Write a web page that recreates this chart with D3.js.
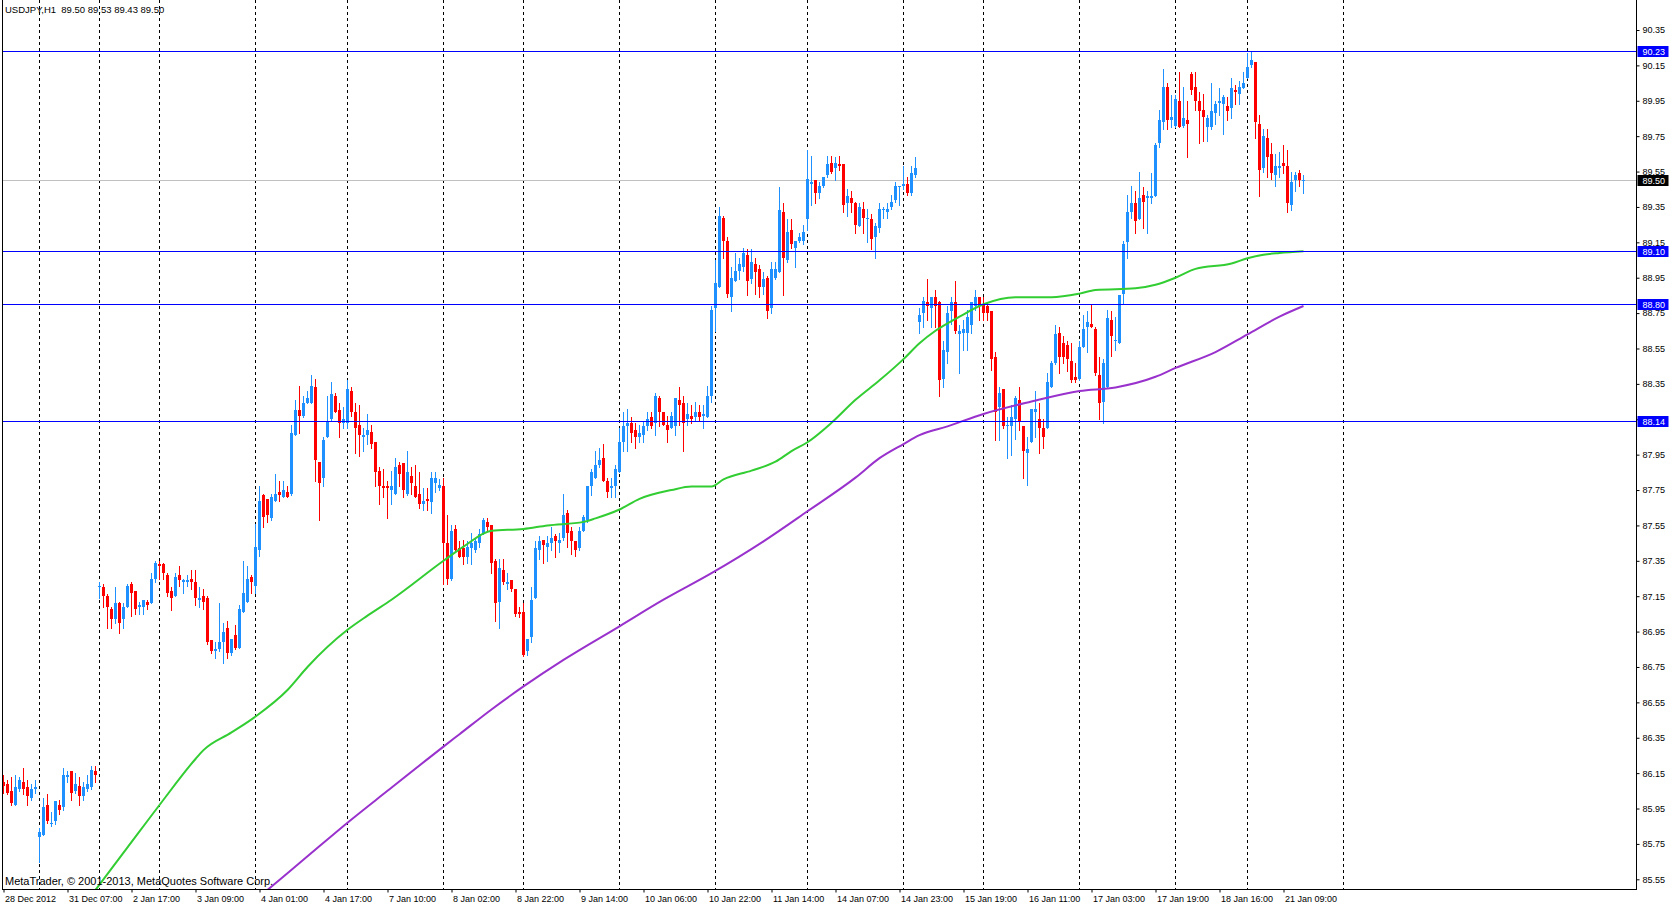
<!DOCTYPE html>
<html>
<head>
<meta charset="utf-8">
<script src="https://cdn.jsdelivr.net/npm/d3@7"></script>
<style>
body { margin: 0; background: #fff; }
svg text { font-family: "Liberation Sans", Arial, sans-serif; }
</style>
</head>
<body>
<script>
// USDJPY H1, one value per hourly bar (bar 0 = 28 Dec 15:00)
var open = [
  86.10,86.09,86.05,85.97,86.06,86.10,86.07,86.01,86.06,85.79,
  85.80,85.97,85.86,85.88,85.97,85.96,86.13,86.16,86.05,86.08,
  86.02,86.06,86.07,86.16,87.20,87.20,87.15,87.08,87.02,87.11,
  87.02,87.09,87.22,87.18,87.09,87.09,87.12,87.11,87.25,87.33,
  87.33,87.27,87.18,87.15,87.27,87.23,87.23,87.25,87.23,87.13,
  87.15,87.14,86.90,86.84,86.85,86.89,86.97,86.83,86.93,86.86,
  87.06,87.12,87.26,87.21,87.41,87.72,87.70,87.59,87.69,87.74,
  87.71,87.74,87.73,88.06,88.20,88.17,88.24,88.24,88.33,87.91,
  87.82,88.05,88.15,88.28,88.20,88.13,88.13,88.31,88.19,88.12,
  88.05,88.06,88.08,88.02,87.86,87.77,87.77,87.75,87.73,87.89,
  87.90,87.73,87.83,87.77,87.73,87.67,87.70,87.68,87.79,87.76,
  87.77,87.45,87.25,87.53,87.42,87.42,87.37,87.42,87.41,87.45,
  87.50,87.57,87.55,87.35,87.12,87.30,87.22,87.24,87.19,87.06,
  87.06,86.84,86.92,87.14,87.41,87.47,87.43,87.45,87.49,87.45,
  87.48,87.62,87.52,87.46,87.42,87.52,87.58,87.77,87.82,87.89,
  87.93,87.80,87.76,87.77,87.85,88.02,88.11,88.13,88.09,88.05,
  88.06,88.11,88.16,88.13,88.27,88.19,88.12,88.10,88.11,88.26,
  88.24,88.15,88.17,88.16,88.19,88.17,88.16,88.28,88.78,88.90,
  89.29,89.16,88.84,88.93,88.99,89.01,89.08,88.94,89.03,89.00,
  88.90,88.95,88.78,88.95,88.98,89.32,89.05,89.22,89.12,89.16,
  89.16,89.28,89.48,89.50,89.43,89.47,89.53,89.60,89.57,89.59,
  89.59,89.37,89.40,89.37,89.24,89.34,89.28,89.28,89.18,89.23,
  89.33,89.32,89.35,89.39,89.46,89.47,89.48,89.43,89.53,88.70,
  88.75,88.81,88.78,88.84,88.81,88.38,88.53,88.76,88.81,88.63,
  88.64,88.64,88.68,88.79,88.84,88.80,88.79,88.76,88.50,88.22,
  88.32,88.11,88.11,88.15,88.26,88.11,87.96,88.02,88.19,88.15,
  88.10,88.10,88.33,88.47,88.64,88.58,88.57,88.48,88.39,88.38,
  88.56,88.67,88.69,88.66,88.40,88.25,88.33,88.71,88.59,88.58,
  88.86,89.15,89.32,89.37,89.28,89.42,89.40,89.40,89.41,89.71,
  89.83,90.03,89.84,89.81,89.95,89.81,89.84,90.10,90.03,89.95,
  89.90,89.80,89.80,89.88,89.94,89.93,89.92,89.91,90.01,89.99,
  90.02,90.08,90.15,90.17,89.82,89.57,89.74,89.65,89.53,89.57,
  89.60,89.58,89.36,89.50,89.54,89.50
];
var high = [
  86.14,86.11,86.13,86.14,86.13,86.18,86.11,86.09,86.11,85.84,
  86.01,86.03,85.93,85.99,86.00,86.18,86.16,86.16,86.15,86.13,
  86.10,86.14,86.19,86.19,87.23,87.22,87.16,87.09,87.20,87.12,
  87.11,87.22,87.23,87.18,87.12,87.13,87.13,87.28,87.35,87.35,
  87.34,87.28,87.20,87.28,87.32,87.25,87.27,87.30,87.30,87.20,
  87.19,87.15,86.90,86.89,87.11,87.00,87.01,86.91,86.99,87.10,
  87.35,87.32,87.27,87.56,87.77,87.73,87.70,87.73,87.84,87.80,
  87.80,87.77,88.12,88.26,88.34,88.28,88.31,88.40,88.38,87.91,
  88.05,88.28,88.36,88.30,88.24,88.22,88.37,88.33,88.24,88.23,
  88.10,88.18,88.12,88.02,87.88,87.87,87.80,87.86,87.93,87.91,
  87.90,87.97,87.88,87.89,87.85,87.76,87.76,87.85,87.85,87.81,
  87.82,87.61,87.55,87.55,87.46,87.47,87.46,87.51,87.48,87.53,
  87.59,87.59,87.55,87.36,87.36,87.36,87.28,87.24,87.19,87.09,
  87.11,86.91,87.20,87.46,87.49,87.47,87.49,87.54,87.50,87.51,
  87.73,87.64,87.54,87.46,87.54,87.61,87.77,87.87,87.97,87.99,
  88.01,87.82,87.82,87.89,88.10,88.19,88.21,88.16,88.13,88.12,
  88.14,88.19,88.19,88.30,88.28,88.19,88.17,88.19,88.27,88.33,
  88.28,88.24,88.23,88.25,88.23,88.23,88.34,88.79,89.05,89.35,
  89.30,89.18,89.01,89.09,89.06,89.12,89.11,89.11,89.06,89.02,
  88.98,88.96,89.04,89.04,89.46,89.37,89.28,89.28,89.16,89.20,
  89.25,89.67,89.64,89.50,89.49,89.52,89.64,89.64,89.63,89.64,
  89.59,89.45,89.44,89.38,89.37,89.38,89.34,89.31,89.26,89.37,
  89.35,89.37,89.42,89.49,89.47,89.58,89.52,89.58,89.63,88.78,
  88.84,88.94,88.84,88.88,88.82,88.59,88.79,88.84,88.93,88.68,
  88.71,88.77,88.81,88.88,88.84,88.84,88.81,88.76,88.53,88.33,
  88.32,88.16,88.23,88.28,88.33,88.11,88.05,88.21,88.31,88.24,
  88.15,88.41,88.48,88.68,88.67,88.62,88.59,88.58,88.47,88.59,
  88.74,88.76,88.80,88.67,88.50,88.49,88.77,88.76,88.73,88.85,
  89.16,89.42,89.47,89.44,89.55,89.46,89.44,89.54,89.71,89.90,
  90.13,90.05,89.98,89.98,90.11,90.03,89.95,90.11,90.11,90.00,
  89.99,89.87,90.05,89.95,90.02,89.98,89.97,90.08,90.04,90.06,
  90.11,90.22,90.23,90.17,89.87,89.79,89.79,89.71,89.65,89.66,
  89.70,89.67,89.55,89.55,89.56,89.53
];
var low = [
  86.04,86.03,85.97,85.97,86.05,86.03,85.97,86.00,86.04,85.65,
  85.80,85.87,85.85,85.86,85.92,85.94,86.10,86.00,86.04,85.97,
  86.00,86.05,86.06,86.10,87.14,87.09,86.97,86.97,87.00,86.94,
  86.97,87.09,87.04,87.05,87.05,87.05,87.08,87.11,87.23,87.25,
  87.25,87.15,87.07,87.15,87.21,87.17,87.21,87.19,87.10,87.09,
  87.08,86.88,86.83,86.80,86.84,86.77,86.80,86.82,86.85,86.86,
  87.06,87.12,87.17,87.17,87.38,87.54,87.57,87.58,87.69,87.69,
  87.71,87.71,87.72,88.06,88.07,88.16,88.24,88.24,87.80,87.58,
  87.77,88.05,88.14,88.19,88.05,88.10,88.10,88.17,87.96,87.94,
  87.97,88.01,87.99,87.77,87.67,87.71,87.59,87.67,87.73,87.77,
  87.71,87.72,87.73,87.71,87.65,87.64,87.64,87.62,87.74,87.75,
  87.22,87.22,87.24,87.40,87.37,87.33,87.34,87.33,87.40,87.43,
  87.50,87.52,87.28,87.01,86.97,87.22,87.19,87.18,87.04,87.03,
  86.81,86.82,86.89,87.14,87.36,87.34,87.35,87.41,87.37,87.40,
  87.47,87.43,87.39,87.38,87.41,87.52,87.57,87.72,87.82,87.88,
  87.80,87.71,87.71,87.71,87.85,87.97,87.97,88.02,87.99,88.02,
  88.02,88.09,88.10,88.06,88.11,88.12,88.02,88.10,88.06,88.12,
  87.97,88.12,88.13,88.14,88.14,88.10,88.16,88.25,88.65,88.90,
  89.06,88.84,88.76,88.93,88.94,88.99,88.85,88.92,88.86,88.84,
  88.86,88.72,88.75,88.94,88.98,88.85,89.04,89.12,89.01,89.15,
  89.14,89.22,89.36,89.37,89.40,89.46,89.52,89.54,89.50,89.56,
  89.32,89.30,89.32,89.20,89.24,89.20,89.15,89.11,89.06,89.21,
  89.29,89.29,89.34,89.38,89.36,89.45,89.42,89.42,89.52,88.64,
  88.67,88.71,88.67,88.67,88.28,88.33,88.47,88.69,88.64,88.41,
  88.54,88.54,88.64,88.77,88.71,88.71,88.71,88.43,88.03,88.03,
  88.10,87.93,87.95,88.04,88.09,87.82,87.78,88.02,88.05,87.96,
  87.99,88.10,88.33,88.46,88.41,88.47,88.42,88.36,88.36,88.37,
  88.56,88.53,88.67,88.40,88.15,88.13,88.33,88.51,88.54,88.58,
  88.80,89.06,89.29,89.20,89.28,89.23,89.20,89.37,89.41,89.69,
  89.79,89.79,89.80,89.80,89.80,89.80,89.63,89.99,89.90,89.71,
  89.72,89.72,89.79,89.82,89.87,89.76,89.84,89.85,89.93,89.93,
  90.02,90.08,90.14,89.74,89.41,89.55,89.52,89.51,89.47,89.52,
  89.54,89.32,89.33,89.44,89.47,89.43
];
var close = [
  86.08,86.04,85.98,86.07,86.11,86.06,86.02,86.06,86.07,85.82,
  85.96,85.88,85.87,85.99,85.94,86.14,86.14,86.04,86.09,86.02,
  86.07,86.09,86.17,86.14,87.21,87.15,87.09,87.02,87.11,87.00,
  87.09,87.21,87.17,87.08,87.10,87.13,87.10,87.25,87.34,87.32,
  87.28,87.17,87.14,87.26,87.24,87.24,87.24,87.23,87.14,87.14,
  87.12,86.89,86.84,86.85,86.89,86.95,86.83,86.91,86.86,87.08,
  87.17,87.25,87.23,87.43,87.69,87.60,87.61,87.71,87.73,87.72,
  87.75,87.71,88.07,88.20,88.17,88.24,88.27,88.34,87.92,87.79,
  88.03,88.14,88.29,88.19,88.13,88.15,88.32,88.19,88.10,88.06,
  88.06,88.09,88.01,87.85,87.77,87.76,87.76,87.77,87.88,87.84,
  87.75,87.85,87.79,87.71,87.67,87.69,87.69,87.82,87.82,87.78,
  87.45,87.25,87.52,87.41,87.37,87.37,87.43,87.45,87.46,87.50,
  87.58,87.54,87.34,87.11,87.31,87.23,87.23,87.19,87.05,87.05,
  86.82,86.91,87.13,87.42,87.46,87.44,87.45,87.48,87.46,87.47,
  87.61,87.51,87.46,87.41,87.52,87.60,87.77,87.85,87.89,87.92,
  87.80,87.74,87.77,87.87,88.02,88.11,88.13,88.07,88.05,88.07,
  88.11,88.15,88.11,88.28,88.19,88.12,88.09,88.17,88.27,88.23,
  88.13,88.18,88.15,88.19,88.16,88.18,88.28,88.77,88.92,89.30,
  89.16,88.86,88.95,88.99,89.03,89.09,88.93,89.04,88.98,88.90,
  88.94,88.76,89.00,89.00,89.33,89.06,89.21,89.14,89.16,89.18,
  89.21,89.51,89.49,89.43,89.47,89.52,89.59,89.55,89.60,89.58,
  89.36,89.41,89.37,89.25,89.35,89.29,89.29,89.17,89.24,89.34,
  89.34,89.34,89.38,89.47,89.47,89.48,89.43,89.54,89.57,88.74,
  88.82,88.79,88.84,88.79,88.37,88.54,88.75,88.81,88.65,88.65,
  88.66,88.73,88.81,88.84,88.79,88.75,88.75,88.49,88.19,88.30,
  88.11,88.12,88.16,88.27,88.14,87.97,87.98,88.21,88.21,88.10,
  88.05,88.36,88.47,88.63,88.50,88.50,88.49,88.37,88.37,88.56,
  88.66,88.70,88.67,88.41,88.24,88.47,88.72,88.62,88.60,88.85,
  89.14,89.32,89.37,89.27,89.40,89.38,89.41,89.41,89.70,89.84,
  90.03,89.84,89.86,89.96,89.80,89.85,89.82,90.01,89.95,89.89,
  89.86,89.85,89.89,89.93,89.95,89.97,89.89,90.02,90.00,90.03,
  90.05,90.14,90.18,89.83,89.56,89.75,89.63,89.54,89.58,89.58,
  89.58,89.37,89.49,89.53,89.50,89.50
];

// moving averages at a few bars
var maFastBars   = [23,31,39,48,50,57,63,71,76,86,91,97,110,115,122,130,136,145,148,154,159,167,172,177,180,187,193,197,201,207,213,219,225,229,233,239,245,253,262,269,273,283,288,293,298,307,311,315,319,325];
var maFastValues = [85.49,85.73,85.97,86.23,86.28,86.38,86.47,86.62,86.75,86.96,87.04,87.13,87.35,87.43,87.52,87.53,87.55,87.57,87.59,87.64,87.70,87.75,87.77,87.77,87.81,87.86,87.91,87.97,88.02,88.13,88.26,88.37,88.49,88.58,88.65,88.73,88.80,88.84,88.84,88.86,88.88,88.89,88.91,88.95,89.00,89.03,89.06,89.08,89.09,89.10];
var maSlowBars   = [66,76,86,96,110,114,122,130,140,154,165,177,190,201,213,219,225,229,236,245,257,269,278,288,293,303,311,319,325];
var maSlowValues = [85.49,85.68,85.87,86.05,86.30,86.37,86.51,86.64,86.79,86.98,87.13,87.28,87.46,87.63,87.82,87.93,88.01,88.06,88.11,88.18,88.25,88.31,88.33,88.39,88.44,88.53,88.63,88.73,88.79];

var symbol = "USDJPY,H1";
var levels = [90.23, 89.10, 88.80, 88.14];
var bid = 89.50;
var priceTicks = [90.35,90.15,89.95,89.75,89.55,89.35,89.15,88.95,88.75,88.55,88.35,88.15,87.95,87.75,87.55,87.35,87.15,86.95,86.75,86.55,86.35,86.15,85.95,85.75,85.55];
var timeLabels = ["28 Dec 2012","31 Dec 07:00","2 Jan 17:00","3 Jan 09:00","4 Jan 01:00","4 Jan 17:00","7 Jan 10:00","8 Jan 02:00","8 Jan 22:00","9 Jan 14:00","10 Jan 06:00","10 Jan 22:00","11 Jan 14:00","14 Jan 07:00","14 Jan 23:00","15 Jan 19:00","16 Jan 11:00","17 Jan 03:00","17 Jan 19:00","18 Jan 16:00","21 Jan 09:00"];
var timeLabelBars = [0,16,32,48,64,80,96,112,128,144,160,176,192,208,224,240,256,272,288,304,320];
var daySeparators = [9,24,39,63,86,110,130,154,178,201,225,245,269,293,311,335];

var w = 1674, h = 906;
var plotLeft = 2.5, plotRight = 1636.5, plotBottom = 889.5;

var x = d3.scaleLinear().domain([0, 408]).range([3.5, 1635.5]);
var y = d3.scaleLinear().domain([85.55, 90.35]).range([879.3, 30]);

function py(v) { return Math.round(y(v)) + 0.5; }
function candleColor(i) { return close[i] >= open[i] ? "#1E90FF" : "#FF0000"; }

var svg = d3.select("body").append("svg")
    .attr("width", w)
    .attr("height", h);

svg.append("defs").append("clipPath").attr("id", "plotclip")
    .append("rect")
    .attr("x", 3).attr("y", 0)
    .attr("width", plotRight - 3).attr("height", plotBottom - 0.5);

// day separators
svg.append("g")
    .selectAll("line")
    .data(daySeparators)
    .enter()
    .append("line")
    .attr("x1", function(d) { return x(d); })
    .attr("x2", function(d) { return x(d); })
    .attr("y1", 0)
    .attr("y2", plotBottom)
    .attr("stroke", "#000")
    .attr("stroke-dasharray", "3,3")
    .attr("shape-rendering", "crispEdges");

// bid line
svg.append("line")
    .attr("x1", plotLeft).attr("x2", plotRight)
    .attr("y1", py(bid)).attr("y2", py(bid))
    .attr("stroke", "#C0C0C0")
    .attr("shape-rendering", "crispEdges");

// candles
var bars = d3.range(open.length);
var cg = svg.append("g").attr("shape-rendering", "crispEdges");

cg.selectAll(".wick")
    .data(bars)
    .enter()
    .append("line")
    .attr("class", "wick")
    .attr("x1", function(i) { return x(i); })
    .attr("x2", function(i) { return x(i); })
    .attr("y1", function(i) { return Math.round(y(high[i])); })
    .attr("y2", function(i) { return Math.round(y(low[i])) + 1; })
    .attr("stroke", candleColor);

cg.selectAll(".body")
    .data(bars)
    .enter()
    .append("rect")
    .attr("class", "body")
    .attr("x", function(i) { return x(i) - 1.5; })
    .attr("width", 3)
    .attr("y", function(i) { return Math.round(y(Math.max(open[i], close[i]))); })
    .attr("height", function(i) {
        var top = Math.round(y(Math.max(open[i], close[i])));
        var bot = Math.round(y(Math.min(open[i], close[i])));
        return Math.max(1, bot - top);
    })
    .attr("fill", candleColor);

// moving averages
var maLine = d3.line()
    .x(function(d) { return x(d[0]); })
    .y(function(d) { return y(d[1]); })
    .curve(d3.curveMonotoneX);

svg.append("path")
    .datum(d3.zip(maFastBars, maFastValues))
    .attr("d", maLine)
    .attr("clip-path", "url(#plotclip)")
    .attr("fill", "none")
    .attr("stroke", "#32CD32")
    .attr("stroke-width", 2);

svg.append("path")
    .datum(d3.zip(maSlowBars, maSlowValues))
    .attr("d", maLine)
    .attr("clip-path", "url(#plotclip)")
    .attr("fill", "none")
    .attr("stroke", "#9932CC")
    .attr("stroke-width", 2);

// horizontal levels
svg.append("g")
    .selectAll("line")
    .data(levels)
    .enter()
    .append("line")
    .attr("x1", plotLeft).attr("x2", plotRight)
    .attr("y1", py).attr("y2", py)
    .attr("stroke", "#0000FF")
    .attr("shape-rendering", "crispEdges");

// frame
svg.append("path")
    .attr("d", "M" + plotLeft + ",0V" + plotBottom + "H" + plotRight + "V0")
    .attr("fill", "none")
    .attr("stroke", "#000")
    .attr("shape-rendering", "crispEdges");

// price axis
var yAxis = d3.axisRight(y)
    .tickValues(priceTicks)
    .tickSize(3)
    .tickFormat(d3.format(".2f"));

var ya = svg.append("g")
    .attr("transform", "translate(" + plotRight + ",0)")
    .call(yAxis);
ya.select(".domain").remove();
ya.attr("font-family", "Liberation Sans, Arial, sans-serif").attr("font-size", 9);
ya.selectAll("text").attr("fill", "#000");

// time axis
var xAxis = d3.axisBottom(x)
    .tickValues(timeLabelBars)
    .tickSize(3)
    .tickFormat(function(d, i) { return timeLabels[i]; });

var xa = svg.append("g")
    .attr("transform", "translate(0," + plotBottom + ")")
    .call(xAxis);
xa.select(".domain").remove();
xa.attr("font-family", "Liberation Sans, Arial, sans-serif").attr("font-size", 9);
xa.selectAll("text")
    .attr("text-anchor", "start")
    .attr("x", 1)
    .attr("fill", "#000");

// price boxes on the axis
function priceBox(v, fill) {
    svg.append("rect")
        .attr("x", plotRight + 1)
        .attr("y", Math.round(y(v)) - 5)
        .attr("width", 31)
        .attr("height", 11)
        .attr("fill", fill);
    svg.append("text")
        .attr("x", plotRight + 6)
        .attr("y", Math.round(y(v)) + 4)
        .attr("font-size", 9)
        .attr("fill", "#fff")
        .text(d3.format(".2f")(v));
}
levels.forEach(function(v) { priceBox(v, "#0000FF"); });
priceBox(bid, "#000");

// captions
var last = open.length - 1;
svg.append("text")
    .attr("x", 5).attr("y", 13)
    .attr("font-size", 9.5)
    .style("white-space", "pre")
    .text(symbol + "  " + [open[last], high[last], low[last], close[last]].map(d3.format(".2f")).join(" "));

svg.append("text")
    .attr("x", 5).attr("y", 885)
    .attr("font-size", 11)
    .attr("fill", "#000")
    .text("MetaTrader, \u00A9 2001-2013, MetaQuotes Software Corp.");
</script>
</body>
</html>
